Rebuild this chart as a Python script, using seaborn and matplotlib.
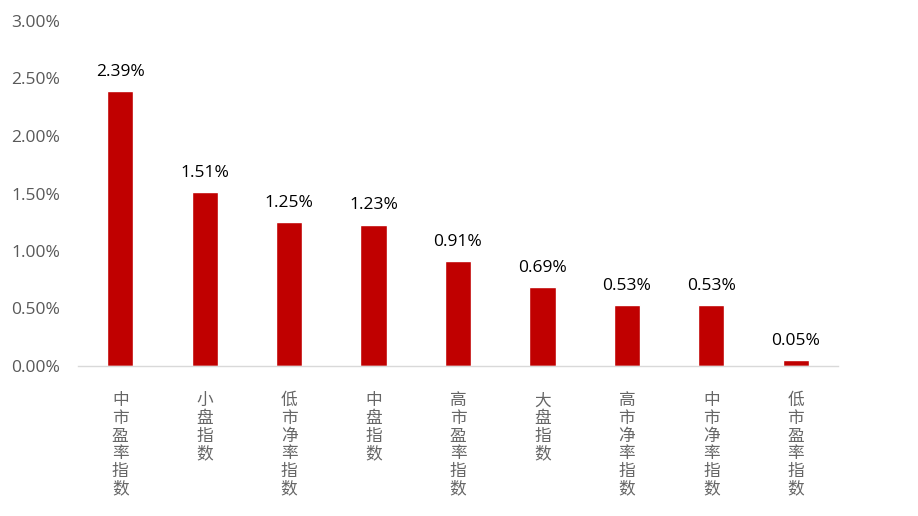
import matplotlib
matplotlib.use("Agg")
import matplotlib.pyplot as plt
import seaborn as sns
import pandas as pd
from matplotlib.ticker import FuncFormatter

categories = ["中市盈率指数", "小盘指数", "低市净率指数", "中盘指数", "高市盈率指数",
              "大盘指数", "高市净率指数", "中市净率指数", "低市盈率指数"]
values = [2.39, 1.51, 1.25, 1.23, 0.91, 0.69, 0.53, 0.53, 0.05]
yticks = [0.0, 0.5, 1.0, 1.5, 2.0, 2.5, 3.0]

df = pd.DataFrame({"cat": categories, "val": values})

sns.set_theme(style="white")
plt.rcParams['font.family'] = ['Open Sans', 'Noto Sans CJK SC', 'DejaVu Sans']

fig = plt.figure(figsize=(9.18, 5.16), dpi=100)
ax = fig.add_axes([78/918, 1-366/516, (838-78)/918, (366-21)/516])

sns.barplot(data=df, x="cat", y="val", color="#C00000", width=0.31, ax=ax, saturation=1)

ax.set_ylim(0, 3.0)
ax.set_xlim(-0.5, len(categories)-0.5)
ax.set_yticks(yticks)
ax.yaxis.set_major_formatter(FuncFormatter(lambda v, p: f"{v:.2f}%"))
ax.tick_params(axis='y', labelsize=12.5, labelcolor="#595959", length=0, pad=13)
ax.set_xlabel("")
ax.set_ylabel("")

for s in ["top", "right", "left"]:
    ax.spines[s].set_visible(False)
ax.spines["bottom"].set_color("#D9D9D9")
ax.spines["bottom"].set_linewidth(1)

ax.set_xticks(range(len(categories)))
ax.set_xticklabels(["\n".join(c) for c in categories], family=['Noto Sans CJK SC'],
                   fontsize=12, color="#666666", va="top", linespacing=1.05)
ax.tick_params(axis='x', length=0, pad=19)

for i, v in enumerate(values):
    ax.annotate(f"{v:.2f}%", (i, v), xytext=(0, 8), textcoords="offset points",
                ha="center", va="bottom", fontsize=12.5, color="#000000")

fig.savefig("out.png", dpi=100)
